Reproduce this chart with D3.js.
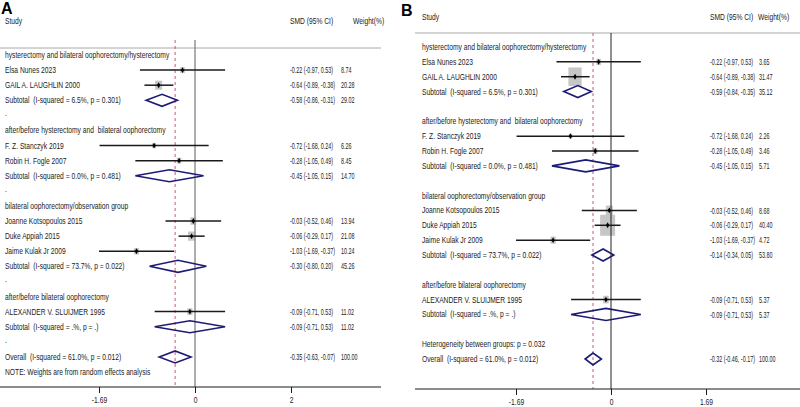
<!DOCTYPE html>
<html>
<head>
<meta charset="utf-8">
<script src="https://cdn.jsdelivr.net/npm/d3@7"></script>
<style>
  body { margin: 0; background: #fff; }
  text { font-family: "Liberation Sans", Arial, sans-serif; font-size: 8.6px; fill: #222; white-space: pre; }
  text.num { font-size: 9px; }
  .letter { font-size: 16px; font-weight: bold; fill: #000; }
</style>
</head>
<body>
<script>
var WIDTH = 800,
    HEIGHT = 407;

// data
var groupNames = [
    'hysterectomy and bilateral oophorectomy/hysterectomy',
    'after/before hysterectomy and  bilateral oophorectomy',
    'bilateral oophorectomy/observation group',
    'after/before bilateral oophorectomy'
];
var studyNames = ['Elsa Nunes 2023', 'GAIL A. LAUGHLIN 2000', 'F. Z. Stanczyk 2019', 'Robin H. Fogle 2007',
    'Joanne Kotsopoulos 2015', 'Duke Appiah 2015', 'Jaime Kulak Jr 2009', 'ALEXANDER V. SLUIJMER 1995'];
var studyGroup = [0, 0, 1, 1, 2, 2, 2, 3];
var smd = [-0.22, -0.64, -0.72, -0.28, -0.03, -0.06, -1.03, -0.09];
var ciLow = [-0.97, -0.89, -1.68, -1.05, -0.52, -0.29, -1.69, -0.71];
var ciHigh = [0.53, -0.38, 0.24, 0.49, 0.46, 0.17, -0.37, 0.53];
var weightA = [8.74, 20.28, 6.26, 8.45, 13.94, 21.08, 10.24, 11.02];
var weightB = [3.65, 31.47, 2.26, 3.46, 8.68, 40.40, 4.72, 5.37];

var subtotalStats = ['(I-squared = 6.5%, p = 0.301)', '(I-squared = 0.0%, p = 0.481)',
    '(I-squared = 73.7%, p = 0.022)', '(I-squared = .%, p = .)'];
var subSmdA = [-0.58, -0.45, -0.30, -0.09];
var subLowA = [-0.86, -1.05, -0.80, -0.71];
var subHighA = [-0.31, 0.15, 0.20, 0.53];
var subWeightA = [29.02, 14.70, 45.26, 11.02];
var subSmdB = [-0.59, -0.45, -0.14, -0.09];
var subLowB = [-0.84, -1.05, -0.34, -0.71];
var subHighB = [-0.35, 0.15, 0.05, 0.53];
var subWeightB = [35.12, 5.71, 53.80, 5.37];

var overallStats = '(I-squared = 61.0%, p = 0.012)';
var overallA = [-0.35, -0.63, -0.07, 100.00];
var overallB = [-0.32, -0.46, -0.17, 100.00];

var tickValues = [-1.69, 0, 1.69];
var tickLabelsA = ['-1.69', '0', '2'];
var tickLabelsB = ['-1.69', '0', '1.69'];

var PANELS = [
    { letter: 'A', letterX: 1, letterY: 13.5, headY: 21, labelX: 5, estX: 290, wtX: 341, hdrWtX: 353,
      sepY: 48, lineTop: 40, x0: 0, x1: 381, axisY: 387, rowY: [55, 372], xRange: [99, 291],
      nullColor: '#8a8a8a', nullWidth: 1.4, boxW: 1.55, boxH: 2.0, dots: true,
      weights: weightA, sub: [subSmdA, subLowA, subHighA, subWeightA], overall: overallA,
      tickLabels: tickLabelsA, last: 'NOTE: Weights are from random effects analysis' },
    { letter: 'B', letterX: 401, letterY: 16, headY: 17, labelX: 422, estX: 710, wtX: 759, hdrWtX: 758,
      sepY: 33, lineTop: 33, x0: 415, x1: 800, axisY: 389, rowY: [47, 359], xRange: [516, 706],
      nullColor: '#222', nullWidth: 1, boxW: 2.36, boxH: 3.3, dots: false,
      weights: weightB, sub: [subSmdB, subLowB, subHighB, subWeightB], overall: overallB,
      tickLabels: tickLabelsB, het: 'Heterogeneity between groups: p = 0.032' }
];

var LABEL_SX = 0.78,
    NUM_SX = 0.6;

document.addEventListener('DOMContentLoaded', function() {
    var svg = d3.select('body').append('svg')
        .attr('width', WIDTH)
        .attr('height', HEIGHT);

    PANELS.forEach(p => drawPanel(svg.append('g'), p));
});

function f2(v) { return v.toFixed(2); }

function buildRows(p) {
    var rows = [];
    groupNames.forEach((name, gi) => {
        rows.push({ type: 'header', label: name });
        studyNames.forEach((s, i) => {
            if (studyGroup[i] !== gi) return;
            rows.push({ type: 'study', label: s, est: smd[i], lo: ciLow[i], hi: ciHigh[i], wt: p.weights[i] });
        });
        rows.push({ type: 'pooled', label: 'Subtotal  ' + subtotalStats[gi],
            est: p.sub[0][gi], lo: p.sub[1][gi], hi: p.sub[2][gi], wt: p.sub[3][gi] });
        rows.push({ type: 'blank' });
    });
    if (p.het) rows.push({ type: 'text', label: p.het });
    rows.push({ type: 'pooled', label: 'Overall  ' + overallStats,
        est: p.overall[0], lo: p.overall[1], hi: p.overall[2], wt: p.overall[3] });
    if (p.last) rows.push({ type: 'text', label: p.last });
    return rows;
}

function txt(g, x, y, s, sx) {
    return g.append('text')
        .attr('transform', 'translate(' + x + ',' + y + ') scale(' + (sx || LABEL_SX) + ',1)')
        .attr('dy', '0.35em')
        .text(s);
}

function drawPanel(g, p) {
    var rows = buildRows(p);
    var x = d3.scaleLinear().domain([tickValues[0], tickValues[2]]).range(p.xRange);
    var y = d3.scaleLinear().domain([0, rows.length - 1]).range(p.rowY);

    g.append('text').attr('class', 'letter')
        .attr('x', p.letterX).attr('y', p.letterY).text(p.letter);

    txt(g, p.labelX, p.headY, 'Study');
    txt(g, p.estX, p.headY, 'SMD (95% CI)');
    txt(g, p.hdrWtX, p.headY, 'Weight(%)');

    g.append('line')
        .attr('x1', p.x0).attr('x2', p.x1)
        .attr('y1', p.sepY).attr('y2', p.sepY)
        .attr('stroke', '#a8a8a8').attr('stroke-width', 1);

    // weight boxes
    rows.forEach((r, i) => {
        if (r.type !== 'study') return;
        var w = p.boxW * Math.sqrt(r.wt), h = p.boxH * Math.sqrt(r.wt);
        g.append('rect')
            .attr('x', x(r.est) - w / 2).attr('y', y(i) - h / 2)
            .attr('width', w).attr('height', h)
            .attr('fill', '#c6c6c6');
    });

    // null line and overall effect line
    g.append('line')
        .attr('x1', x(0)).attr('x2', x(0))
        .attr('y1', p.lineTop).attr('y2', p.axisY)
        .attr('stroke', p.nullColor).attr('stroke-width', p.nullWidth);

    g.append('line')
        .attr('x1', x(p.overall[0])).attr('x2', x(p.overall[0]))
        .attr('y1', p.lineTop).attr('y2', p.axisY)
        .attr('stroke', '#c8587a').attr('stroke-width', 1)
        .attr('stroke-dasharray', '3,3');

    rows.forEach((r, i) => {
        var yy = y(i);
        if (r.type === 'blank') {
            if (p.dots) txt(g, p.labelX, yy - 2, '.').attr('fill', '#bbb');
            return;
        }
        txt(g, p.labelX, yy, r.label);

        if (r.type === 'study') {
            g.append('line')
                .attr('x1', x(r.lo)).attr('x2', x(r.hi))
                .attr('y1', yy).attr('y2', yy)
                .attr('stroke', '#1a1a1a').attr('stroke-width', 1.5);
            g.append('path')
                .attr('d', d3.symbol(d3.symbolDiamond, 10)())
                .attr('transform', 'translate(' + x(r.est) + ',' + yy + ')')
                .attr('fill', '#000');
        }
        if (r.type === 'pooled') {
            var pts = [[x(r.lo), yy], [x(r.est), yy - 6], [x(r.hi), yy], [x(r.est), yy + 6]];
            g.append('polygon')
                .attr('points', pts.map(d => d.join(',')).join(' '))
                .attr('fill', 'none')
                .attr('stroke', '#1c1c78').attr('stroke-width', 1.6);
        }
        if (r.type === 'study' || r.type === 'pooled') {
            txt(g, p.estX, yy, f2(r.est) + ' (' + f2(r.lo) + ', ' + f2(r.hi) + ')', NUM_SX).attr('class', 'num');
            txt(g, p.wtX, yy, f2(r.wt), NUM_SX).attr('class', 'num');
        }
    });

    // x axis
    g.append('line')
        .attr('x1', p.x0).attr('x2', p.x1)
        .attr('y1', p.axisY).attr('y2', p.axisY)
        .attr('stroke', '#1a1a1a').attr('stroke-width', 1.2);

    var axis = d3.axisBottom(x)
        .tickValues(tickValues)
        .tickFormat((d, i) => p.tickLabels[i])
        .tickSize(6);

    var ax = g.append('g')
        .attr('transform', 'translate(0,' + p.axisY + ')')
        .call(axis);
    ax.select('.domain').remove();
    ax.selectAll('.tick line').attr('stroke', '#1a1a1a');
    ax.selectAll('.tick text')
        .attr('font-family', null).attr('font-size', null)
        .attr('fill', '#222')
        .attr('y', 10)
        .attr('x', 0)
        .attr('transform', 'scale(' + LABEL_SX + ',1)');
}
</script>
</body>
</html>
